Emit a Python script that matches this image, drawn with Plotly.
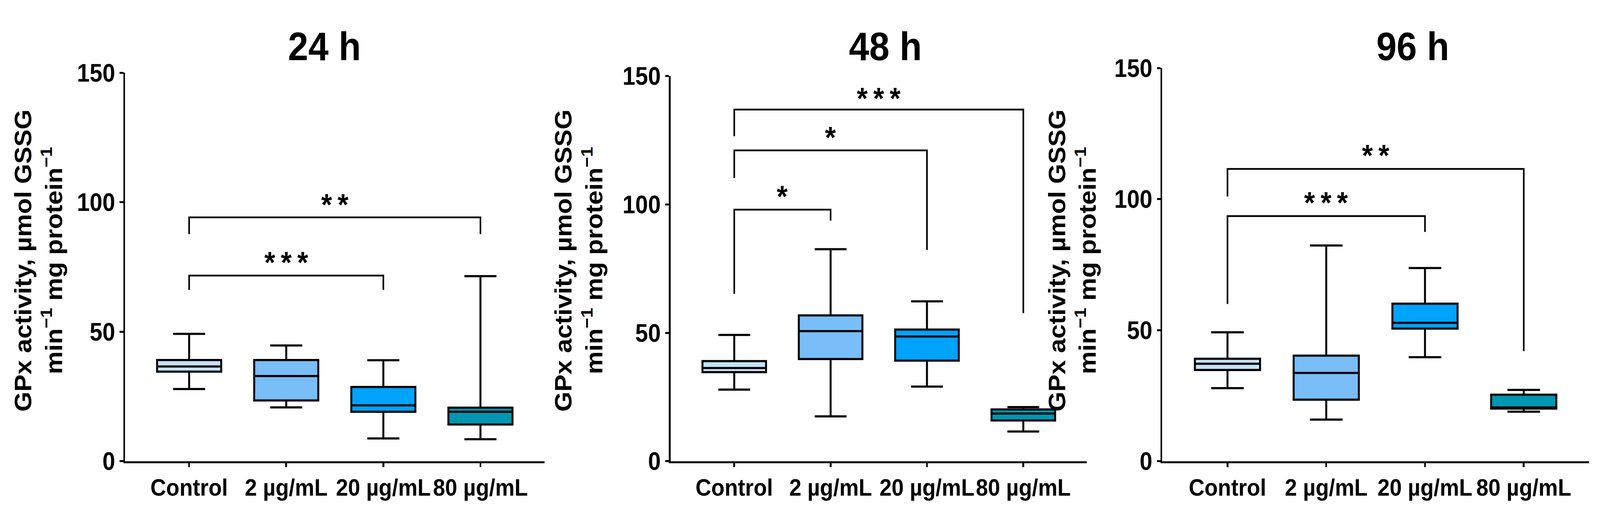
import plotly.graph_objects as go

W, H = 4478, 1339

groups = ['Control', '2 µg/mL', '20 µg/mL', '80 µg/mL']
box_colors = ['#c6e3fa', '#79bef9', '#00a3fe', '#0097b2']
panel_titles = ['24 h', '48 h', '96 h']

# box statistics (lower whisker, q1, median, q3, upper whisker)
lower_24 = [27.9, 20.8, 8.8, 8.5]
q1_24 = [34.6, 23.5, 19.1, 14.2]
median_24 = [36.6, 32.9, 21.6, 19.1]
q3_24 = [39.1, 39.1, 28.7, 20.7]
upper_24 = [49.2, 44.7, 39.0, 71.5]

lower_48 = [27.9, 17.5, 29.1, 11.6]
q1_48 = [34.7, 39.8, 39.2, 15.9]
median_48 = [36.3, 50.7, 48.6, 18.6]
q3_48 = [39.0, 56.8, 51.3, 20.2]
upper_48 = [49.2, 82.6, 62.3, 21.1]

lower_96 = [27.9, 15.9, 39.7, 18.9]
q1_96 = [34.8, 23.5, 50.6, 20.1]
median_96 = [37.2, 33.7, 52.8, 20.5]
q3_96 = [39.1, 40.3, 60.1, 25.4]
upper_96 = [49.2, 82.3, 73.7, 27.2]

# significance brackets: (from group, to group, bar level, left leg end, right leg end, label, label level)
brackets_24 = [(0, 2, 71.7, 66.2, 66.2, '***', 77.6),
               (0, 3, 94.2, 87.7, 87.7, '**', 100.0)]
brackets_48 = [(0, 1, 98.0, 65.2, 93.7, '*', 104.0),
               (0, 2, 121.1, 110.3, 82.3, '*', 127.0),
               (0, 3, 137.0, 126.6, 57.7, '***', 142.3)]
brackets_96 = [(0, 2, 93.5, 60.0, 87.5, '***', 99.5),
               (0, 3, 111.5, 101.0, 42.0, '**', 117.5)]

y_ticks = [0, 50, 100, 150]
y_title = 'GPx activity, µmol GSSG<br>min<sup>−1</sup> mg protein<sup>−1</sup>'

panels = [
    (lower_24, q1_24, median_24, q3_24, upper_24, brackets_24),
    (lower_48, q1_48, median_48, q3_48, upper_48, brackets_48),
    (lower_96, q1_96, median_96, q3_96, upper_96, brackets_96),
]

# layout in pixels of the reference
x_dom_px = [(350, 1524), (1877, 3042), (3253, 4447)]
y_top_px = [159, 168, 146]
y_bot_px = 1210
title_x_px = [908, 2478, 3954]
ytitle_x_px = [108, 1620, 3001]

FONT = 'Liberation Sans, Arial, sans-serif'

fig = go.Figure()
layout = {}
annotations = []

for i, (lo, q1, med, q3, up, brs) in enumerate(panels):
    n = '' if i == 0 else str(i + 1)
    xa, ya = 'x' + n, 'y' + n
    for g, col, a, b, c, d, e in zip(groups, box_colors, lo, q1, med, q3, up):
        fig.add_trace(go.Box(
            x=[g], lowerfence=[a], q1=[b], median=[c], q3=[d], upperfence=[e],
            fillcolor=col, line=dict(color='black', width=5.5),
            width=0.66, whiskerwidth=0.5, boxpoints=False,
            xaxis=xa, yaxis=ya, showlegend=False, hoverinfo='skip'))
    for (g0, g1, yb, yl, yr, lab, ylab) in brs:
        fig.add_trace(go.Scatter(
            x=[groups[g0], groups[g0], groups[g1], groups[g1]],
            y=[yl, yb, yb, yr], mode='lines',
            line=dict(color='black', width=4.5),
            xaxis=xa, yaxis=ya, showlegend=False, hoverinfo='skip'))
        annotations.append(dict(
            x=(g0 + g1) / 2, y=ylab, xref=xa, yref=ya,
            text='\u2009'.join(lab), showarrow=False, yanchor='middle', yshift=-6,
            font=dict(family=FONT, size=78, color='black', weight='bold')))

    x0, x1 = x_dom_px[i]
    layout['xaxis' + n] = dict(
        domain=[x0 / W, x1 / W], anchor=ya, type='category',
        categoryorder='array', categoryarray=groups, range=[-0.66, 3.66],
        showline=True, linecolor='black', linewidth=5,
        ticks='outside', ticklen=10, tickwidth=5, tickcolor='black',
        showgrid=False, zeroline=False,
        tickfont=dict(family=FONT, size=61, color='black', weight='bold'))
    layout['yaxis' + n] = dict(
        domain=[(H - y_bot_px) / H, (H - y_top_px[i]) / H], anchor=xa,
        range=[0, 150], tickvals=y_ticks,
        showline=True, linecolor='black', linewidth=5,
        ticks='outside', ticklen=10, tickwidth=5, tickcolor='black',
        showgrid=False, zeroline=False,
        tickfont=dict(family=FONT, size=64, color='black', weight='bold'))

    annotations.append(dict(
        x=title_x_px[i] / W, y=1 - 88 / H, xref='paper', yref='paper',
        text=panel_titles[i], showarrow=False, xanchor='center', yanchor='middle',
        font=dict(family=FONT, size=102, color='black', weight='bold')))
    annotations.append(dict(
        x=ytitle_x_px[i] / W, y=1 - 667 / H, xref='paper', yref='paper',
        text=y_title, showarrow=False, textangle=-90,
        xanchor='center', yanchor='middle',
        font=dict(family=FONT, size=66, color='black', weight='bold')))

fig.update_layout(
    width=W, height=H,
    margin=dict(l=0, r=0, t=0, b=0),
    paper_bgcolor='white', plot_bgcolor='white',
    boxmode='overlay',
    annotations=annotations,
    **layout)

# stretch the fixed-size figure so it fills the css viewport of the window
fit_js = """
var gd = document.getElementById('{plot_id}');
document.documentElement.style.overflow = 'hidden';
document.body.style.margin = '0';
document.body.style.overflow = 'hidden';
var sx = window.innerWidth / %d, sy = window.innerHeight / %d;
gd.style.position = 'absolute';
gd.style.left = '0px';
gd.style.top = '0px';
gd.style.transformOrigin = '0 0';
gd.style.transform = 'scale(' + sx + ',' + sy + ')';
""" % (W, H)

fig.write_html('out.html', post_script=fit_js, config={'displayModeBar': False})
